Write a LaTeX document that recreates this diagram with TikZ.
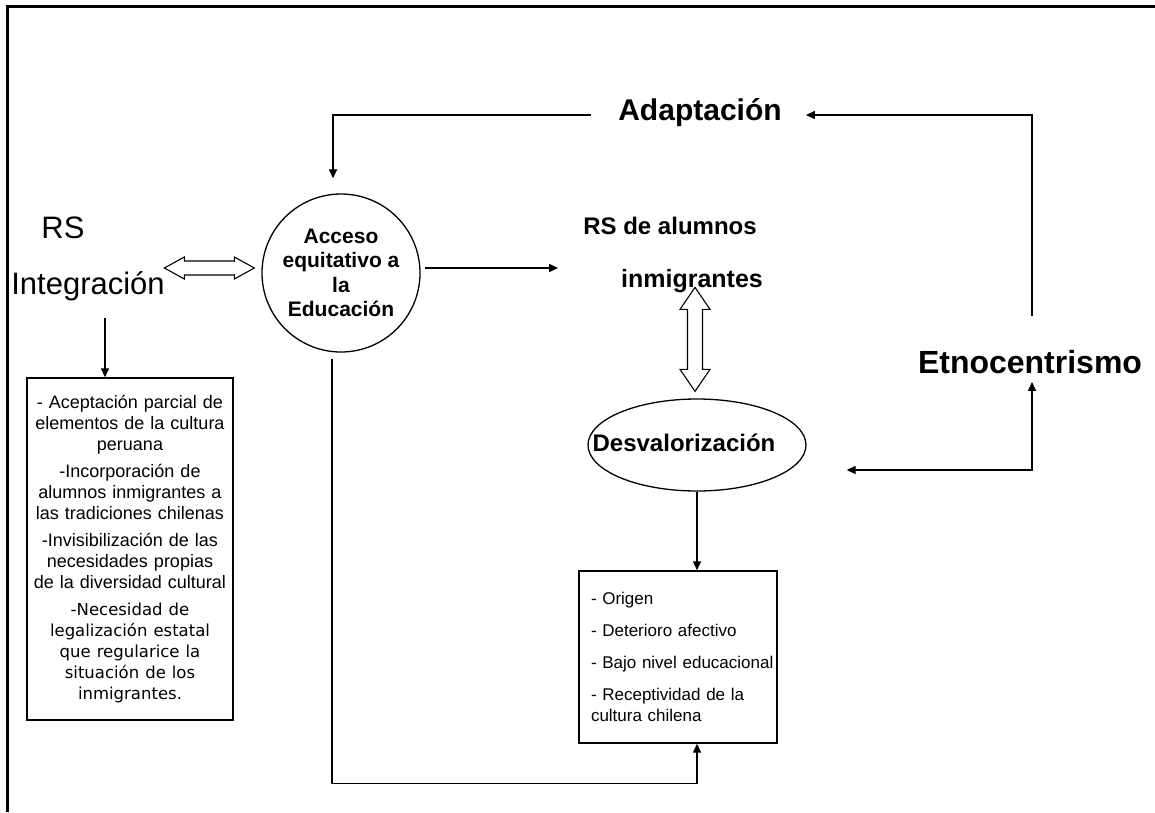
\documentclass[tikz,border=0pt]{standalone}
\usepackage{fontspec}
\setmainfont{Liberation Sans}
\newfontfamily\dvsans{DejaVu Sans}
\usetikzlibrary{arrows.meta,shapes.geometric,calc}
\begin{document}
\begin{tikzpicture}[x=1pt,y=-1pt,
  conn/.style={line width=1.4pt},
  tip/.tip={Triangle[length=9pt,width=8pt]},
  arr/.style={conn,-tip},
  txt/.style={inner sep=0pt},
  bigb/.style={txt,font=\fontsize{30}{36}\selectfont\bfseries},
  bigr/.style={txt,font=\fontsize{31}{36}\selectfont},
  midb/.style={txt,font=\fontsize{24}{28}\selectfont\bfseries},
  hollow/.style={draw,line width=1.1pt,fill=white,line join=miter},
  boxed/.style={draw,line width=1.4pt,inner sep=0pt}
]
\useasboundingbox (0,0) rectangle (1155,812);
\draw[line width=3pt] (7,812) -- (7,6) -- (1155,6);

\node[bigb] (adapt) at (700,113) {Adaptación};
\node[bigr,anchor=base] (rs) at (63,238) {RS};
\node[bigr,anchor=base] (integ) at (88,294) {Integración};
\node[circle,draw,line width=1.3pt,minimum size=158pt,inner sep=0pt,align=center,
      font=\fontsize{21}{24.5}\selectfont\bfseries] (acceso) at (341,273)
      {Acceso\\equitativo a\\la\\Educación};
\node[midb,anchor=base] (rsa) at (670,234) {RS de alumnos};
\node[txt,font=\fontsize{25}{28}\selectfont\bfseries,anchor=base] (rsb) at (692,287) {inmigrantes};
\node[ellipse,draw,line width=1.3pt,minimum width=218pt,minimum height=92pt,inner sep=0pt] (desv) at (697,445) {};
\node[midb] (desvt) at (684,443) {Desvalorización};
\node[txt,font=\fontsize{32}{36}\selectfont\bfseries] (etno) at (1030,362) {Etnocentrismo};

\node[boxed,text width=206pt,minimum height=342pt,align=center,
      font=\fontsize{18}{21}\selectfont] (b1) at (130,549)
{- Aceptación parcial de\\elementos de la cultura\\peruana\\[6pt]-Incorporación de\\alumnos inmigrantes a\\las tradiciones chilenas\\[6pt]-Invisibilización de las\\necesidades propias\\de la diversidad cultural\\[6pt]\dvsans\fontsize{16.5}{21}\selectfont -Necesidad de\\legalización estatal\\que regularice la\\situación de los\\inmigrantes.};

\node[boxed,text width=198pt,minimum height=172pt,align=left,
      font=\fontsize{17}{21}\selectfont] (b2) at (678,657)
{\hspace*{12pt}- Origen\\[11pt]\hspace*{12pt}- Deterioro afectivo\\[11pt]\hspace*{12pt}- Bajo nivel educacional\\[11pt]\hspace*{12pt}- Receptividad de la\\\hspace*{12pt}cultura chilena};

% connectors
\draw[arr] ($(adapt.west)+(-27,2)$) -| ($(acceso.north)+(-8,-15)$);
\draw[arr] ($(etno.north)+(2,-34)$) |- ($(adapt.east)+(24,2)$);
\draw[conn,tip-tip] ($(desv.east)+(40,25)$) -| ($(etno.south)+(2,8)$);
\draw[arr] ($(acceso.east)+(4,-5)$) -- ($(acceso.east -| rsa.west)+(-25,-5)$);
\draw[arr] ($(integ.south)+(17,17)$) -- ($(b1.north)+(-25,0)$);
\draw[arr] (desv.south) -- (desv.south |- b2.north);
\draw[arr] ($(acceso.south)+(-9,6)$) |- ($(b2.south -| desv.south)+(0,40)$) -- (b2.south -| desv.south);

% hollow double arrows
\coordinate (hm) at ($(acceso.west)+(-52,-5)$);
\draw[hollow,shift={(hm)}] (-45,0) -- (-25,-11) -- (-25,-7) -- (25,-7) -- (25,-11) -- (45,0)
  -- (25,11) -- (25,7) -- (-25,7) -- (-25,11) -- cycle;
\coordinate (vm) at ($(desv.north)+(-2,-59)$);
\draw[hollow,shift={(vm)}] (0,-52) -- (15,-30) -- (7.5,-30) -- (7.5,30) -- (15,30) -- (0,52)
  -- (-15,30) -- (-7.5,30) -- (-7.5,-30) -- (-15,-30) -- cycle;
\end{tikzpicture}
\end{document}
